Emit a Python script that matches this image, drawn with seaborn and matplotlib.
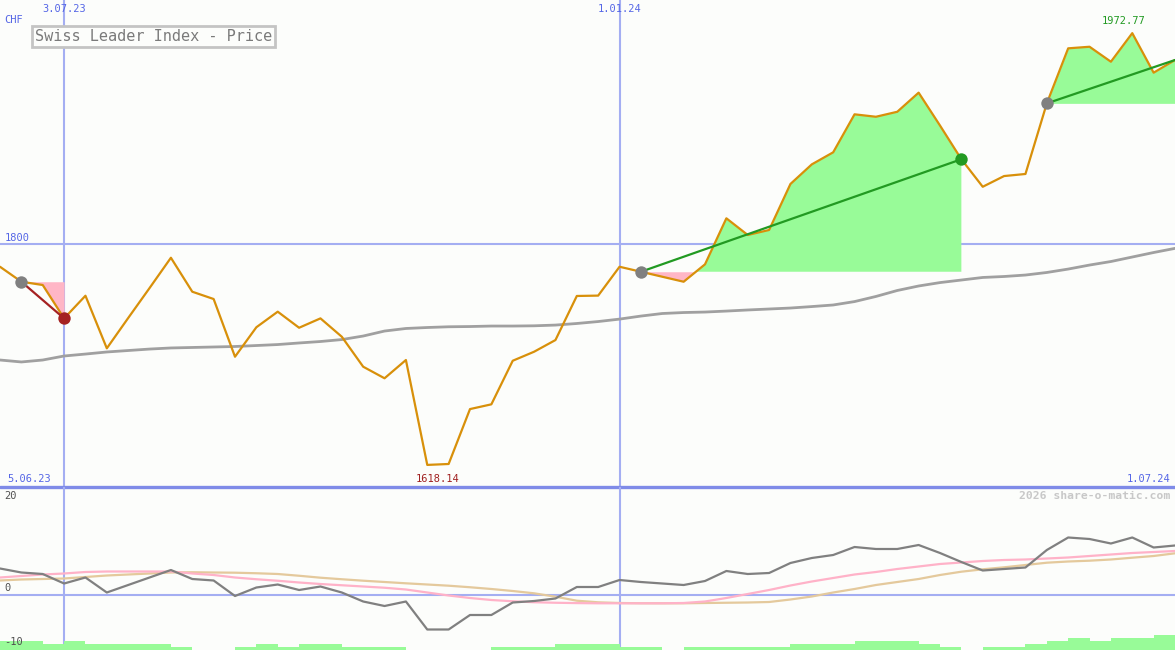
import numpy as np
import pandas as pd
import matplotlib
matplotlib.use("Agg")
import matplotlib.pyplot as plt
import seaborn as sns

# weekly closes, 12.06.23 .. 1.07.24
weeks = pd.date_range("2023-06-12", periods=56, freq="7D")

price = [1780.9, 1768.6, 1765.9, 1738.5, 1757.1, 1713.9, 1738.8, 1763.4, 1788.3, 1760.4,
         1754.4, 1707.0, 1731.2, 1744.0, 1730.8, 1738.5, 1723.4, 1698.8, 1689.3, 1704.3,
         1618.14, 1618.9, 1664.0, 1667.9, 1703.7, 1711.1, 1720.7, 1756.9, 1757.2, 1780.9,
         1776.8, 1772.7, 1768.6, 1782.9, 1820.7, 1807.0, 1811.1, 1848.9, 1865.0, 1874.9,
         1906.1, 1904.1, 1908.2, 1923.9, 1896.9, 1869.2, 1846.6, 1855.4, 1857.1, 1915.1,
         1960.3, 1961.6, 1949.3, 1972.77, 1940.3, 1950.7]

moving_avg = [1704.3, 1702.7, 1704.3, 1707.6, 1709.2, 1710.9, 1712.1, 1713.3, 1714.2, 1714.6,
              1715.0, 1715.4, 1716.2, 1717.0, 1718.3, 1719.5, 1721.1, 1724.0, 1728.1, 1730.2,
              1731.0, 1731.6, 1731.8, 1732.2, 1732.2, 1732.4, 1733.0, 1734.3, 1735.9, 1737.9,
              1740.4, 1742.5, 1743.3, 1743.7, 1744.5, 1745.4, 1746.2, 1747.0, 1748.2, 1749.5,
              1752.3, 1756.5, 1761.4, 1765.1, 1767.9, 1770.0, 1772.1, 1772.9, 1774.1, 1776.2,
              1779.0, 1782.3, 1785.2, 1788.9, 1792.6, 1796.0]

# lower panel: oscillator and its two smoothings
osc = [5.3, 4.5, 4.2, 2.3, 3.5, 0.5, 2.0, 3.5, 5.0, 3.2,
       2.9, -0.2, 1.5, 2.1, 1.0, 1.7, 0.5, -1.3, -2.2, -1.3,
       -6.9, -6.9, -4.0, -4.0, -1.5, -1.2, -0.7, 1.6, 1.6, 3.0,
       2.6, 2.3, 2.0, 2.8, 4.8, 4.2, 4.4, 6.4, 7.4, 8.0,
       9.6, 9.2, 9.2, 10.0, 8.4, 6.6, 4.9, 5.2, 5.5, 9.0,
       11.5, 11.2, 10.3, 11.5, 9.5, 9.9]

osc_fast = [3.5, 3.8, 4.1, 4.3, 4.6, 4.7, 4.7, 4.7, 4.7, 4.3,
            4.0, 3.5, 3.15, 2.85, 2.5, 2.2, 1.95, 1.7, 1.45, 1.1,
            0.5, -0.1, -0.6, -1.0, -1.25, -1.45, -1.55, -1.62, -1.66, -1.66,
            -1.66, -1.66, -1.6, -1.3, -0.6, 0.2, 1.0, 1.9, 2.7, 3.4,
            4.1, 4.6, 5.2, 5.7, 6.2, 6.5, 6.8, 7.0, 7.1, 7.3,
            7.5, 7.8, 8.1, 8.4, 8.6, 8.8]

osc_slow = [2.9, 3.1, 3.2, 3.3, 3.6, 3.9, 4.1, 4.3, 4.5, 4.55,
            4.5, 4.46, 4.35, 4.2, 3.85, 3.46, 3.15, 2.86, 2.6, 2.34,
            2.1, 1.86, 1.55, 1.2, 0.8, 0.34, -0.34, -1.14, -1.46, -1.6,
            -1.65, -1.66, -1.66, -1.6, -1.55, -1.5, -1.4, -0.9, -0.3, 0.5,
            1.2, 2.0, 2.6, 3.2, 4.0, 4.66, 5.14, 5.54, 6.0, 6.46,
            6.7, 6.86, 7.1, 7.46, 7.8, 8.34]

bar_level = [3, 3, 2, 3, 2, 2, 2, 2, 1, 0,
             0, 1, 2, 1, 2, 2, 1, 1, 1, 0,
             0, 0, 0, 1, 1, 1, 2, 2, 2, 1,
             1, 0, 1, 1, 1, 1, 1, 2, 2, 2,
             3, 3, 3, 2, 1, 0, 1, 1, 2, 3,
             4, 3, 4, 4, 5, 5]

# signals: start week, end week, colour of end marker / connecting line
signals = [(1, 3, "#a52222"), (30, 45, "#229a22"), (49, 55, "#229a22")]

bg = "#fcfdfb"
grid_blue = "#a4aef2"
text_blue = "#5566e6"
mono = "DejaVu Sans Mono"

sns.set_style("white")
fig = plt.figure(figsize=(11.75, 6.5), dpi=100, facecolor=bg)
ax = fig.add_axes([0, 163 / 650, 1, 487 / 650])
ax2 = fig.add_axes([0, 0, 1, 163 / 650])
for a in (ax, ax2):
    a.set_facecolor(bg)
    a.set_axis_off()
    a.set_xlim(weeks[0], weeks[-1])
    for i in (3, 29):
        a.axvline(weeks[i], color=grid_blue, lw=1.5, zorder=1)

ax.set_ylim(1600, 2000)
ax2.set_ylim(-11, 21.6)

ax.axhline(1800, color=grid_blue, lw=1.5, zorder=1)
ax.axhline(1600, color="#7f8be8", lw=2.4, zorder=6, clip_on=False)
ax2.axhline(0, color=grid_blue, lw=1.5, zorder=1)

# signal fills
price_arr = np.array(price)
for s, e, col in signals:
    level = price_arr[s]
    xs = weeks[s:e + 1]
    ys = price_arr[s:e + 1]
    ax.fill_between(xs, ys, level, where=ys >= level, interpolate=True,
                    color="#98fb98", lw=0, zorder=2)
    ax.fill_between(xs, ys, level, where=ys <= level, interpolate=True,
                    color="#ffb6c6", lw=0, zorder=2)

sns.lineplot(x=weeks, y=moving_avg, ax=ax, color="#a0a0a0", lw=2.0, zorder=3)
sns.lineplot(x=weeks, y=price, ax=ax, color="#d8900a", lw=1.6, zorder=4)

for s, e, col in signals:
    ax.plot([weeks[s], weeks[e]], [price[s], price[e]], color=col, lw=1.6, zorder=5)
    ax.scatter([weeks[s]], [price[s]], s=80, color="#808080", zorder=6, lw=0)
    if e < len(weeks) - 1:
        ax.scatter([weeks[e]], [price[e]], s=80, color=col, zorder=6, lw=0)

# lower panel
ax2.bar(weeks, np.array(bar_level) * 0.6, bottom=-11, width=7, align="edge",
        color="#98fb98", lw=0, zorder=1)
sns.lineplot(x=weeks, y=osc_slow, ax=ax2, color="#e4c99c", lw=1.6, zorder=3)
sns.lineplot(x=weeks, y=osc_fast, ax=ax2, color="#ffb2c8", lw=1.6, zorder=3)
sns.lineplot(x=weeks, y=osc, ax=ax2, color="#808080", lw=1.6, zorder=4)

# texts
xt = ax.get_xaxis_transform()
ax.text(weeks[3], 1 - 9 / 487, "3.07.23", transform=xt, ha="center", va="center",
        color=text_blue, fontsize=7.5, family=mono)
ax.text(weeks[29], 1 - 9 / 487, "1.01.24", transform=xt, ha="center", va="center",
        color=text_blue, fontsize=7.5, family=mono)
ax.text(0.004, 1 - 20 / 487, "CHF", transform=ax.transAxes, ha="left", va="center",
        color=text_blue, fontsize=7.5, family=mono)
ax.text(0.004, 1 - 238 / 487, "1800", transform=ax.transAxes, ha="left", va="center",
        color=text_blue, fontsize=7.5, family=mono)
ax.text(0.006, 8 / 487, "5.06.23", transform=ax.transAxes, ha="left", va="center",
        color=text_blue, fontsize=7.5, family=mono)
ax.text(0.996, 8 / 487, "1.07.24", transform=ax.transAxes, ha="right", va="center",
        color=text_blue, fontsize=7.5, family=mono)
i_min = int(np.argmin(price))
i_max = int(np.argmax(price))
ax.annotate(f"{price[i_min]:.2f}", (weeks[i_min] + pd.Timedelta(days=3.5), price[i_min]),
            xytext=(0, -10), textcoords="offset points", ha="center", va="center",
            color="#a02020", fontsize=7.5, family=mono)
ax.annotate(f"{price[i_max]:.2f}", (weeks[i_max], price[i_max]),
            xytext=(-6.5, 9), textcoords="offset points", ha="center", va="center",
            color="#229a22", fontsize=7.5, family=mono)
ax.text(35 / 1175, 1 - 36.5 / 487, "Swiss Leader Index - Price", transform=ax.transAxes,
        ha="left", va="center", color="#7a7a7a", fontsize=11, family=mono, zorder=10,
        bbox=dict(boxstyle="square,pad=0.2", facecolor=bg, edgecolor="#c4c4c4", lw=2))

ax2.text(0.004, (650 - 496) / 163, "20", transform=ax2.transAxes, ha="left", va="center",
         color="#505050", fontsize=7.5, family=mono)
ax2.text(0.004, (650 - 588) / 163, "0", transform=ax2.transAxes, ha="left", va="center",
         color="#505050", fontsize=7.5, family=mono)
ax2.text(0.004, (650 - 642) / 163, "-10", transform=ax2.transAxes, ha="left", va="center",
         color="#505050", fontsize=7.5, family=mono, zorder=5)
ax2.text(0.996, (650 - 496) / 163, "2026 share-o-matic.com", transform=ax2.transAxes,
         ha="right", va="center", color="#c8c8c8", fontsize=8.2, family=mono,
         fontweight="bold")

fig.savefig("out.png", dpi=100, facecolor=bg)
